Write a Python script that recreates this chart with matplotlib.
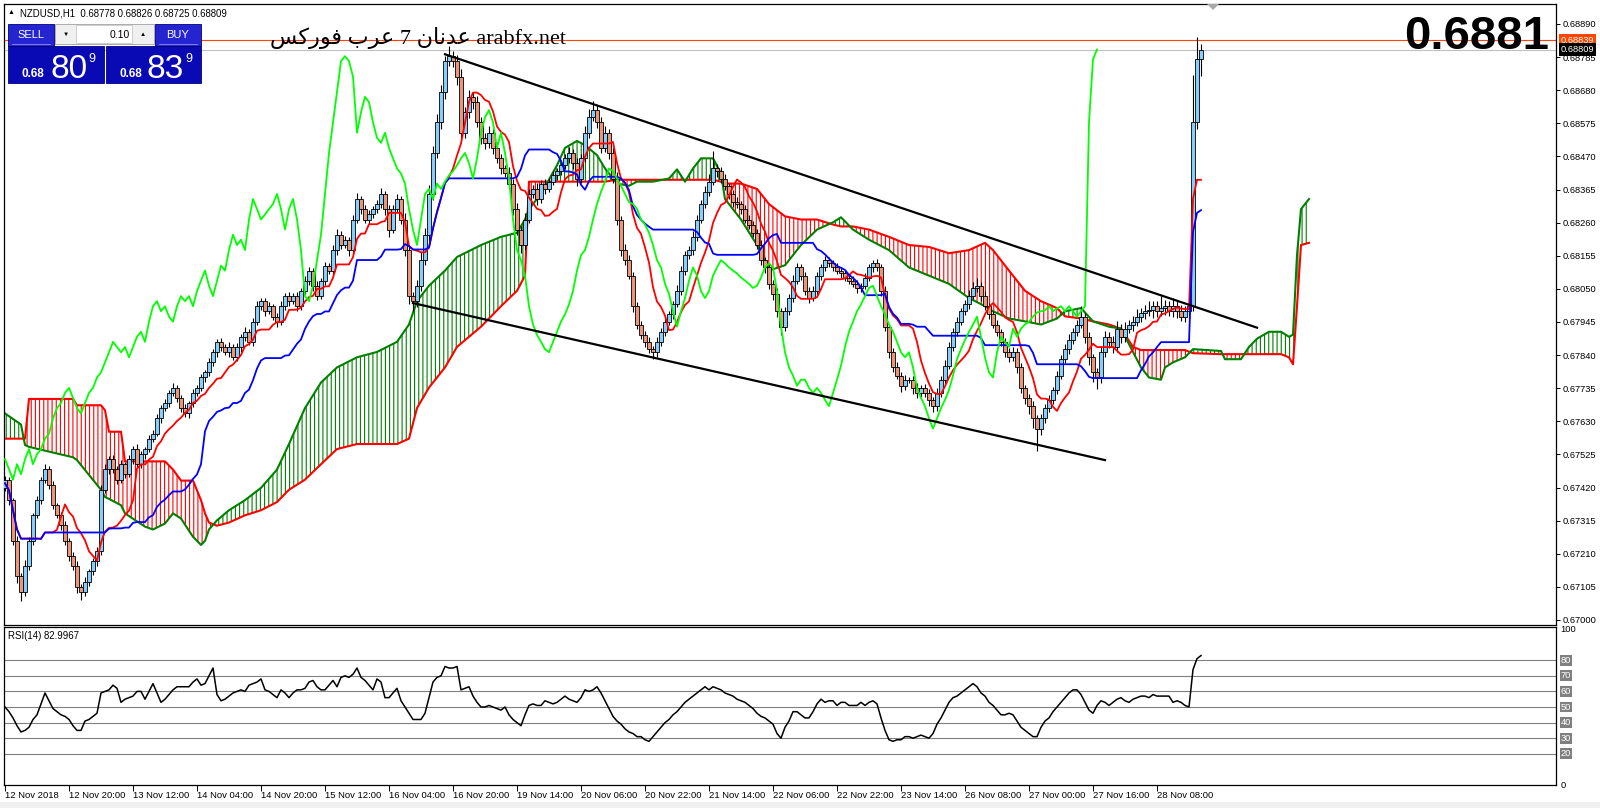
import numpy as np
import pandas as pd
import matplotlib.pyplot as plt
from matplotlib.patches import Rectangle, Polygon
from matplotlib.transforms import blended_transform_factory

plt.rcParams['font.family'] = ['Liberation Sans', 'DejaVu Sans']
plt.rcParams['hatch.linewidth'] = 0.8

# ---- data (prices in points, 1 point = 0.00001) ----
first_open_pts = 67420
close_pts = [
    67445, 67380, 67251, 67138, 67089, 67170, 67251, 67332, 67380, 67445,
    67478, 67429, 67364, 67332, 67300, 67251, 67203, 67170, 67105, 67089,
    67122, 67154, 67186, 67219, 67413, 67478, 67510, 67478, 67445, 67494,
    67462, 67510, 67542, 67494, 67526, 67542, 67575, 67591, 67639, 67672,
    67688, 67720, 67736, 67704, 67672, 67655, 67688, 67720, 67736, 67769,
    67785, 67817, 67849, 67882, 67866, 67849, 67866, 67833, 67866, 67898,
    67914, 67882, 67946, 67995, 68011, 67979, 67995, 67962, 67946, 67995,
    68027, 68011, 68027, 67995, 68043, 68076, 68108, 68060, 68027, 68076,
    68124, 68108, 68173, 68222, 68189, 68206, 68173, 68270, 68335, 68303,
    68270, 68286, 68303, 68319, 68351, 68303, 68238, 68303, 68335, 68270,
    68173, 68027, 68011, 68060, 68141, 68222, 68351, 68481, 68578, 68675,
    68772, 68788, 68772, 68723, 68545, 68610, 68659, 68642, 68578, 68529,
    68513, 68545, 68497, 68464, 68432, 68416, 68384, 68303, 68238, 68189,
    68270, 68351, 68367, 68335, 68384, 68367, 68390, 68410, 68423, 68442,
    68464, 68481, 68448, 68400, 68464, 68545, 68594, 68617, 68578, 68497,
    68545, 68481, 68400, 68270, 68173, 68141, 68092, 67995, 67937, 67904,
    67882, 67859, 67849, 67882, 67914, 67946, 67969, 68001, 68043, 68108,
    68157, 68173, 68215, 68270, 68319, 68358, 68390, 68432, 68423, 68400,
    68377, 68351, 68325, 68319, 68303, 68270, 68254, 68228, 68189, 68141,
    68118, 68066, 68034, 67979, 67930, 67979, 68021, 68076, 68118, 68092,
    68043, 68021, 68043, 68092, 68118, 68141, 68131, 68118, 68108, 68099,
    68086, 68076, 68066, 68053, 68060, 68086, 68118, 68131, 68118, 68043,
    67930, 67849, 67801, 67775, 67743, 67762, 67762, 67736, 67720, 67736,
    67720, 67698, 67678, 67720, 67762, 67807, 67866, 67914, 67946, 67979,
    68001, 68027, 68053, 68060, 68027, 67995, 67969, 67937, 67914, 67882,
    67849, 67833, 67849, 67801, 67736, 67704, 67678, 67639, 67607, 67639,
    67672, 67698, 67730, 67775, 67827, 67859, 67888, 67914, 67937, 67962,
    67898, 67833, 67785, 67769, 67849, 67898, 67882, 67866, 67924, 67898,
    67924, 67937, 67946, 67962, 67975, 67979, 67982, 67995, 67979, 67988,
    67995, 67979, 67995, 67979, 67962, 67979, 67995, 68578, 68778, 68809,
]
# wick length above / below the body, points
hi_ext = [
    12, 10, 8, 15, 10, 20, 12, 8, 14, 10, 18, 9, 12, 8, 10, 14, 9, 12, 16, 10,
    14, 8, 10, 12, 15, 18, 10, 12, 9, 14, 8, 12, 10, 15, 9, 8, 12, 10, 14, 9,
    12, 8, 15, 10, 9, 12, 8, 14, 10, 12, 9, 15, 10, 8, 12, 10, 14, 9, 12, 10,
    15, 8, 12, 18, 10, 9, 14, 8, 12, 15, 10, 12, 9, 14, 10, 16, 12, 9, 14, 10,
    12, 9, 15, 18, 10, 12, 9, 14, 20, 10, 12, 15, 9, 12, 18, 10, 14, 12, 16, 10,
    20, 15, 12, 18, 25, 20, 30, 22, 28, 20, 18, 32, 15, 20, 25, 18, 22, 15, 20, 18,
    15, 20, 12, 18, 15, 12, 20, 15, 18, 12, 22, 15, 12, 18, 10, 14, 12, 15, 10, 12,
    15, 20, 12, 18, 14, 20, 25, 30, 15, 18, 20, 12, 15, 20, 12, 18, 15, 10, 14, 12,
    12, 15, 10, 14, 12, 15, 10, 12, 18, 15, 12, 14, 20, 15, 12, 18, 25, 55, 15, 12,
    14, 10, 12, 15, 10, 12, 14, 10, 12, 15, 10, 14, 12, 18, 10, 15, 12, 18, 14, 12,
    10, 12, 15, 10, 12, 14, 10, 12, 15, 10, 12, 10, 14, 12, 10, 15, 12, 10, 14, 12,
    15, 10, 12, 18, 12, 14, 10, 12, 15, 10, 12, 14, 10, 15, 12, 18, 14, 12, 15, 10,
    15, 18, 20, 25, 12, 15, 10, 12, 14, 10, 12, 15, 18, 12, 14, 10, 12, 15, 10, 14,
    12, 15, 10, 14, 12, 15, 18, 12, 15, 35, 12, 15, 10, 14, 18, 20, 15, 18, 25, 15,
    20, 15, 18, 25, 15, 20, 30, 18, 15, 40, 20, 18, 25, 15, 20, 18, 15, 150, 70, 17,
]
lo_ext = [
    10, 15, 12, 20, 30, 12, 10, 14, 8, 12, 10, 15, 12, 10, 14, 12, 15, 10, 18, 25,
    12, 15, 10, 14, 12, 10, 14, 12, 15, 10, 12, 9, 14, 10, 12, 15, 10, 12, 9, 14,
    10, 12, 9, 14, 12, 10, 15, 12, 9, 10, 14, 12, 10, 15, 12, 9, 14, 10, 12, 15,
    12, 10, 14, 9, 12, 15, 10, 12, 18, 10, 12, 14, 10, 15, 12, 10, 14, 18, 12, 10,
    14, 10, 12, 15, 12, 10, 18, 12, 10, 14, 12, 15, 10, 12, 14, 18, 25, 12, 10, 15,
    20, 25, 30, 20, 18, 15, 20, 18, 15, 20, 22, 15, 18, 25, 20, 15, 18, 22, 15, 20,
    18, 15, 20, 15, 18, 12, 15, 20, 18, 25, 15, 12, 14, 18, 12, 15, 10, 12, 14, 12,
    12, 15, 18, 25, 15, 12, 15, 12, 18, 15, 12, 20, 15, 18, 20, 15, 12, 18, 15, 12,
    15, 12, 20, 15, 12, 14, 12, 15, 10, 12, 15, 12, 14, 12, 10, 12, 15, 12, 18, 15,
    12, 15, 14, 12, 15, 12, 14, 15, 12, 14, 18, 15, 20, 18, 25, 15, 12, 14, 12, 15,
    12, 15, 10, 12, 14, 10, 12, 10, 12, 14, 10, 12, 10, 15, 12, 10, 12, 14, 10, 15,
    15, 18, 14, 12, 20, 15, 12, 18, 15, 12, 14, 18, 20, 15, 12, 14, 10, 12, 15, 12,
    12, 14, 10, 12, 15, 12, 14, 12, 15, 12, 14, 15, 12, 18, 15, 20, 25, 30, 70, 20,
    15, 12, 14, 12, 10, 12, 14, 12, 15, 12, 20, 25, 30, 35, 18, 15, 20, 18, 15, 20,
    18, 15, 20, 15, 18, 20, 15, 25, 18, 15, 20, 15, 18, 20, 15, 18, 20, 15, 20, 53,
]
rsi_values = [
    50, 47, 43, 38, 34, 35, 37, 42, 45, 52, 59, 54, 49, 47, 45, 44, 42, 38, 35, 35,
    41, 42, 44, 46, 59, 60, 61, 64, 62, 53, 55, 56, 57, 60, 60, 55, 60, 65, 59, 53,
    55, 58, 61, 63, 63, 63, 63, 66, 68, 64, 65, 70, 75, 58, 54, 55, 57, 59, 60, 61,
    60, 64, 65, 66, 68, 61, 60, 58, 56, 61, 59, 56, 59, 61, 61, 62, 66, 67, 63, 61,
    61, 64, 67, 63, 69, 70, 69, 71, 75, 69, 67, 64, 61, 68, 66, 56, 56, 59, 62, 54,
    50, 46, 42, 42, 42, 46, 56, 66, 69, 70, 76, 75, 75, 76, 61, 62, 63, 57, 53, 50,
    50, 51, 50, 49, 48, 50, 45, 42, 40, 38, 45, 51, 52, 51, 51, 54, 53, 52, 53, 55,
    57, 55, 54, 53, 56, 61, 60, 61, 63, 59, 54, 49, 44, 41, 39, 36, 34, 33, 31, 31,
    29, 28, 31, 34, 37, 40, 42, 45, 47, 50, 53, 55, 57, 59, 61, 63, 61, 63, 62, 61,
    59, 58, 57, 55, 54, 53, 51, 49, 46, 44, 43, 41, 39, 33, 30, 37, 41, 47, 47, 45,
    43, 43, 47, 52, 55, 53, 54, 54, 51, 53, 53, 51, 51, 51, 53, 51, 53, 54, 52, 43,
    35, 29, 28, 29, 29, 31, 31, 30, 31, 32, 31, 30, 33, 39, 43, 48, 53, 56, 57, 59,
    61, 63, 65, 63, 59, 57, 53, 51, 48, 45, 45, 46, 45, 41, 37, 35, 33, 31, 31, 37,
    41, 43, 47, 50, 53, 56, 59, 61, 61, 58, 53, 48, 46, 51, 54, 53, 51, 53, 55, 56,
    54, 53, 55, 56, 57, 57, 56, 58, 57, 57, 57, 57, 53, 54, 53, 51, 50, 74, 81, 83,
]
# Ichimoku cloud (Senkou span A / B), read at these bar positions
cloud_bar = [0, 4, 5, 6, 17, 18, 24, 25, 26, 29, 30, 35, 37, 40, 42, 44, 46, 47, 49, 50,
             51, 53, 56, 60, 64, 68, 71, 75, 79, 83, 88, 93, 98, 101, 103, 106, 110, 113, 119, 124,
             128, 130, 131, 134, 138, 140, 143, 145, 148, 150, 153, 156, 158, 162, 166, 168, 170, 172, 174, 177,
             179, 180, 184, 188, 191, 195, 199, 203, 207, 209, 212, 216, 221, 226, 231, 236, 241, 245, 247, 251,
             255, 259, 263, 265, 269, 272, 276, 279, 282, 284, 286, 289, 290, 292, 295, 297, 304, 305, 309, 311,
             313, 316, 319, 321, 322, 323, 324, 326]
span_a_pts = [67655, 67620, 67555, 67549, 67516, 67507, 67413, 67390, 67384, 67364,
              67338, 67296, 67287, 67306, 67338, 67322, 67283, 67264, 67238, 67251,
              67287, 67316, 67348, 67380, 67419, 67477, 67558, 67672, 67753, 67801,
              67833, 67850, 67882, 67937, 68011, 68060, 68108, 68151, 68189, 68215,
              68228, 68270, 68303, 68351, 68442, 68497, 68519, 68506, 68474, 68432,
              68384, 68377, 68390, 68390, 68400, 68429, 68390, 68432, 68464, 68464,
              68416, 68335, 68270, 68189, 68108, 68125, 68189, 68238, 68261, 68277,
              68238, 68206, 68173, 68118, 68092, 68066, 68021, 67995, 67979, 67956,
              67947, 67937, 67956, 67979, 67989, 67947, 67930, 67924, 67850, 67801,
              67769, 67762, 67801, 67817, 67833, 67859, 67853, 67827, 67827, 67866,
              67892, 67914, 67914, 67898, 67905, 68157, 68303, 68335]
span_b_pts = [67575, 67575, 67575, 67701, 67701, 67681, 67681, 67665, 67597, 67597,
              67503, 67503, 67503, 67503, 67477, 67442, 67442, 67442, 67380, 67338,
              67309, 67299, 67309, 67332, 67348, 67374, 67413, 67445, 67494, 67542,
              67558, 67558, 67558, 67575, 67672, 67737, 67801, 67866, 67930, 67995,
              68044, 68092, 68390, 68390, 68390, 68390, 68390, 68390, 68390, 68390,
              68396, 68396, 68396, 68396, 68396, 68396, 68396, 68396, 68396, 68396,
              68390, 68384, 68384, 68367, 68319, 68280, 68270, 68270, 68254, 68248,
              68248, 68238, 68215, 68189, 68183, 68163, 68173, 68196, 68173, 68108,
              68044, 68011, 67989, 67963, 67956, 67947, 67937, 67924, 67866, 67856,
              67856, 67856, 67856, 67856, 67856, 67846, 67843, 67843, 67843, 67843,
              67843, 67843, 67843, 67833, 67811, 67995, 68189, 68196]
# hand drawn trend lines (bar, price)
upper_trend_bar = [110, 313]
upper_trend_price = [0.68794, 0.67927]
lower_trend_bar = [102, 275]
lower_trend_price = [0.68005, 0.67507]

time_label_bars = [0, 16, 32, 48, 64, 80, 96, 112, 128, 144, 160, 176, 192, 208, 224, 240, 256, 272, 288]
time_labels = ['12 Nov 2018', '12 Nov 20:00', '13 Nov 12:00', '14 Nov 04:00', '14 Nov 20:00',
               '15 Nov 12:00', '16 Nov 04:00', '16 Nov 20:00', '19 Nov 14:00', '20 Nov 06:00',
               '20 Nov 22:00', '21 Nov 14:00', '22 Nov 06:00', '22 Nov 22:00', '23 Nov 14:00',
               '26 Nov 08:00', '27 Nov 00:00', '27 Nov 16:00', '28 Nov 08:00']
price_ticks = [0.67000, 0.67105, 0.67210, 0.67315, 0.67420, 0.67525, 0.67630, 0.67735, 0.67840,
               0.67945, 0.68050, 0.68155, 0.68260, 0.68365, 0.68470, 0.68575, 0.68680, 0.68785, 0.68890]
rsi_levels = [20, 30, 40, 50, 60, 70, 80]
ask_price = 0.68839
bid_price = 0.68809

# ---- candles and indicators ----
close = np.array(close_pts) / 1e5
open_ = np.array([first_open_pts] + close_pts[:-1]) / 1e5
high = np.maximum(open_, close) + np.array(hi_ext) / 1e5
low = np.minimum(open_, close) - np.array(lo_ext) / 1e5
bars = np.arange(len(close))

hi_s = pd.Series(high)
lo_s = pd.Series(low)
tenkan = (hi_s.rolling(9, min_periods=1).max() + lo_s.rolling(9, min_periods=1).min()) / 2
kijun = (hi_s.rolling(26, min_periods=1).max() + lo_s.rolling(26, min_periods=1).min()) / 2
span_a = np.array(span_a_pts) / 1e5
span_b = np.array(span_b_pts) / 1e5

W, H = 1600, 808
fig = plt.figure(figsize=(16, 8.08), dpi=100)
fig.patch.set_facecolor('white')


def frame(l, t, r, b):
    return [l / W, 1 - b / H, (r - l) / W, (b - t) / H]


ax = fig.add_axes(frame(4, 4, 1556, 625))
ax2 = fig.add_axes(frame(4, 627, 1556, 785))
xlim = (-0.25, 387.75)

# cloud
ax.fill_between(cloud_bar, span_a, span_b, where=span_a >= span_b, interpolate=True,
                facecolor='none', edgecolor='#008000', hatch='||||', linewidth=0, zorder=1)
ax.fill_between(cloud_bar, span_a, span_b, where=span_b > span_a, interpolate=True,
                facecolor='none', edgecolor='#FF0000', hatch='||||', linewidth=0, zorder=1)
ax.plot(cloud_bar, span_b, color='#FF0000', lw=1.5, zorder=2)
ax.plot(cloud_bar, span_a, color='#008000', lw=1.5, zorder=2)

# candles
up = close >= open_
body_lo = np.minimum(open_, close)
body_h = np.maximum(np.abs(close - open_), 0.000004)
ax.vlines(bars, low, high, color='black', linewidth=0.8, zorder=3)
ax.bar(bars, body_h, bottom=body_lo, width=0.8, color=np.where(up, '#87CEFA', '#E9967A'),
       edgecolor='black', linewidth=0.6, zorder=3.1)

# tenkan / kijun / chikou
ax.plot(bars, tenkan, color='#FF0000', lw=1.3, zorder=4)
ax.plot(bars, kijun, color='#0000FF', lw=1.3, zorder=4)
ax.plot(bars[:-26], close[26:], color='#00FF00', lw=1.3, zorder=4)

ax.plot(upper_trend_bar, upper_trend_price, color='black', lw=1.6, zorder=5)
ax.plot(lower_trend_bar, lower_trend_price, color='black', lw=1.6, zorder=5)

ax.axhline(ask_price, color='#FF4500', lw=0.8, zorder=2.5)
ax.axhline(bid_price, color='#C0C0C0', lw=0.8, zorder=2.5)

ax.set_xlim(*xlim)
ax.set_ylim(0.669841, 0.689534)
ax.set_xticks([])
ax.yaxis.tick_right()
ax.set_yticks(price_ticks)
ax.set_yticklabels([f'{p:.5f}' for p in price_ticks])
ax.tick_params(axis='y', direction='out', length=3, width=0.7, pad=2, labelsize=6.7)
for s in ax.spines.values():
    s.set_linewidth(0.9)

tr = blended_transform_factory(ax.transAxes, ax.transData)
ax.text(1.0033, ask_price, f'{ask_price:.5f}', transform=tr, fontsize=6.7, color='white',
        va='center', ha='left', zorder=10, clip_on=False,
        bbox=dict(boxstyle='square,pad=0.18', fc='#FF4500', ec='none'))
ax.text(1.0033, bid_price, f'{bid_price:.5f}', transform=tr, fontsize=6.7, color='white',
        va='center', ha='left', zorder=10, clip_on=False,
        bbox=dict(boxstyle='square,pad=0.18', fc='black', ec='none'))

# RSI panel
for lv in rsi_levels:
    ax2.axhline(lv, color='#808080', lw=0.8, zorder=0)
ax2.plot(bars, rsi_values, color='black', lw=1.1)
ax2.set_xlim(*xlim)
ax2.set_ylim(0, 101.3)
ax2.set_yticks([])
ax2.set_xticks(time_label_bars)
ax2.set_xticklabels(time_labels, ha='left')
ax2.tick_params(axis='x', direction='out', length=4, width=0.7, pad=0.5, labelsize=6.8)
for s in ax2.spines.values():
    s.set_linewidth(0.9)
tr2 = blended_transform_factory(ax2.transAxes, ax2.transData)
ax2.text(1.003, 100, '100', transform=tr2, fontsize=6.7, va='center', ha='left', clip_on=False)
ax2.text(1.003, 0, '0', transform=tr2, fontsize=6.7, va='center', ha='left', clip_on=False)
for lv in rsi_levels:
    ax2.text(1.003, lv, str(lv), transform=tr2, fontsize=6.7, color='white', va='center', ha='left',
             clip_on=False, bbox=dict(boxstyle='square,pad=0.1', fc='#808080', ec='none'))

# ---- terminal decorations in pixel space ----
ui = fig.add_axes([0, 0, 1, 1])
ui.set_xlim(0, W)
ui.set_ylim(H, 0)
ui.axis('off')

ui.add_patch(Rectangle((0, 802), W, 6, fc='#F0F0F0', ec='none'))
ui.text(8, 13, '\u25B2', fontsize=5, va='center')
ui.text(20, 13, 'NZDUSD,H1  0.68778 0.68826 0.68725 0.68809', fontsize=6.9, va='center')
ui.text(8, 636, 'RSI(14) 82.9967', fontsize=6.9, va='center')
ui.add_patch(Polygon([[1207, 4], [1219, 4], [1213, 10]], closed=True, fc='#A8A8A8', ec='none'))

# one-click trading panel
blue_tab = '#2424D0'
blue_panel = '#0A0AB4'
ui.add_patch(Rectangle((8, 24), 46, 22, fc=blue_tab, ec='#000080', lw=0.6))
ui.add_patch(Rectangle((155, 24), 46, 22, fc=blue_tab, ec='#000080', lw=0.6))
ui.add_patch(Rectangle((8, 46), 96, 37, fc=blue_panel, ec='#000080', lw=0.6))
ui.add_patch(Rectangle((106, 46), 95, 37, fc=blue_panel, ec='#000080', lw=0.6))
ui.plot([12, 50], [44, 44], color='#9090F0', lw=0.6)
ui.plot([159, 197], [44, 44], color='#9090F0', lw=0.6)
ui.add_patch(Rectangle((55, 24), 99, 20, fc='#F0F0F0', ec='#A0A0A0', lw=0.6))
ui.add_patch(Rectangle((76, 25), 56, 18, fc='white', ec='#C8C8C8', lw=0.6))
ui.text(31, 35, 'SELL', color='white', fontsize=8, ha='center', va='center')
ui.text(178, 35, 'BUY', color='white', fontsize=8, ha='center', va='center')
ui.text(66, 34, '\u25BC', fontsize=4.5, ha='center', va='center')
ui.text(143, 34, '\u25B2', fontsize=4.5, ha='center', va='center')
ui.text(130, 34.5, '0.10', fontsize=7.5, ha='right', va='center')
ui.text(22, 77, '0.68', color='white', fontsize=8.5, fontweight='bold', ha='left', va='baseline')
ui.text(50, 78, '80', color='white', fontsize=24, ha='left', va='baseline')
ui.text(88, 62, '9', color='white', fontsize=9, ha='left', va='baseline')
ui.text(119, 77, '0.68', color='white', fontsize=8.5, fontweight='bold', ha='left', va='baseline')
ui.text(146, 78, '83', color='white', fontsize=24, ha='left', va='baseline')
ui.text(185, 62, '9', color='white', fontsize=9, ha='left', va='baseline')

# Arabic caption, written in presentation forms in visual order so that it renders joined
arabic_caption = ('\uFEB2\uFEDB\uFEAD\uFEEE\uFED3 \uFE8F\uFEAE\uFECB 7 '
                  '\uFEE5\uFE8E\uFEE7\uFEAA\uFECB arabfx.net')
ui.text(270, 44, arabic_caption, fontsize=16, family=['Liberation Serif', 'DejaVu Sans'],
        ha='left', va='baseline')

ui.text(1549, 37, '0.6881', fontsize=34, fontweight='bold', ha='right', va='center')

fig.savefig('out.png', dpi=100)
